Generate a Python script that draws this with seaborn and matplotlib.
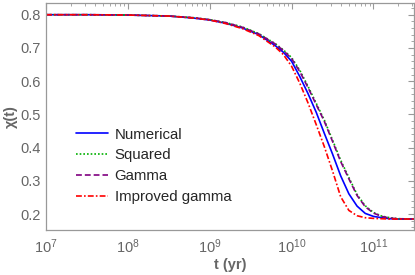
import matplotlib as mpl
mpl.use("Agg")
from matplotlib import pyplot as plt
from matplotlib import ticker
import seaborn as sns
import numpy as np
import pandas as pd

# log10 of time (yr) where the curves were read
log_t = [7.0, 7.5, 8.0, 8.5, 8.8, 9.0, 9.2, 9.4, 9.6, 9.8, 9.9, 10.0, 10.1,
         10.2, 10.3, 10.4, 10.5, 10.6, 10.7, 10.8, 10.9, 11.0, 11.1, 11.2,
         11.3, 11.5]

numerical = [0.800, 0.800, 0.799, 0.796, 0.790, 0.784, 0.774, 0.760, 0.740,
             0.707, 0.687, 0.660, 0.614, 0.563, 0.507, 0.443, 0.381, 0.315,
             0.261, 0.224, 0.202, 0.193, 0.189, 0.186, 0.185, 0.185]
squared = [0.800, 0.800, 0.799, 0.796, 0.791, 0.785, 0.776, 0.763, 0.743,
           0.713, 0.694, 0.671, 0.633, 0.585, 0.534, 0.483, 0.423, 0.362,
           0.310, 0.259, 0.225, 0.205, 0.194, 0.189, 0.186, 0.185]
gamma = [0.800, 0.800, 0.799, 0.796, 0.791, 0.785, 0.776, 0.762, 0.742,
         0.712, 0.692, 0.668, 0.629, 0.581, 0.530, 0.479, 0.419, 0.358,
         0.306, 0.256, 0.222, 0.203, 0.193, 0.188, 0.186, 0.185]
improved_gamma = [0.800, 0.800, 0.799, 0.796, 0.790, 0.784, 0.773, 0.758,
                  0.737, 0.703, 0.680, 0.645, 0.594, 0.535, 0.470, 0.403,
                  0.330, 0.252, 0.211, 0.195, 0.189, 0.187, 0.186, 0.185,
                  0.185, 0.185]

labels = ["Numerical", "Squared", "Gamma", "Improved gamma"]
series = [numerical, squared, gamma, improved_gamma]

df = pd.concat([pd.DataFrame({"t": 10 ** np.array(log_t), "chi": s, "Method": lab})
                for lab, s in zip(labels, series)])

palette = {"Numerical": "#0000ff", "Squared": "#00b000",
           "Gamma": "#800080", "Improved gamma": "#ff0000"}
dashes = {"Numerical": "", "Squared": (1, 1.2),
          "Gamma": (3.5, 1.8), "Improved gamma": (3.5, 1.3, 1, 1.3)}

sns.set_style("white")
plt.rcParams["font.family"] = ["Liberation Sans", "DejaVu Sans"]

fig = plt.figure(figsize=(4.15, 2.75), dpi=100)
ax = fig.add_axes([0.111, 0.1636, 0.887, 0.824])

sns.lineplot(data=df, x="t", y="chi", hue="Method", style="Method",
             palette=palette, dashes=dashes, linewidth=1.2, ax=ax,
             sort=False)

ax.set_xscale("log")
ax.set_xlim(1e7, 10 ** 11.498)
ax.set_ylim(0.152, 0.834)

gray = "#999999"
txt = "#666666"
for s in ax.spines.values():
    s.set_color(gray)
    s.set_linewidth(0.9)

ax.yaxis.set_major_locator(ticker.MultipleLocator(0.1))
ax.yaxis.set_minor_locator(ticker.MultipleLocator(0.02))
ax.yaxis.set_major_formatter(ticker.FormatStrFormatter("%.1f"))
ax.xaxis.set_major_locator(ticker.LogLocator(base=10, numticks=10))
ax.xaxis.set_minor_locator(ticker.LogLocator(base=10, subs=np.arange(2, 10), numticks=20))
ax.xaxis.set_minor_formatter(ticker.NullFormatter())

ax.tick_params(which="both", direction="in", color=gray, top=True, right=True,
               labelsize=10.5, labelcolor=txt)
ax.tick_params(which="major", length=4, width=0.8)
ax.tick_params(which="minor", length=2, width=0.6)
ax.tick_params(axis="x", pad=5)

ax.set_xlabel("t (yr)", fontsize=10.5, fontweight="bold", color=txt, labelpad=2)
ax.set_ylabel("χ(t)", fontsize=10.5, fontweight="bold", color=txt, labelpad=2)
ax.grid(False)

ax.legend(loc="upper left", bbox_to_anchor=(0.0815, 0.452), frameon=False,
          fontsize=10.8, handlelength=2.1, handletextpad=0.47,
          labelspacing=0.46, borderaxespad=0, borderpad=0)

fig.savefig("out.png", dpi=100)
